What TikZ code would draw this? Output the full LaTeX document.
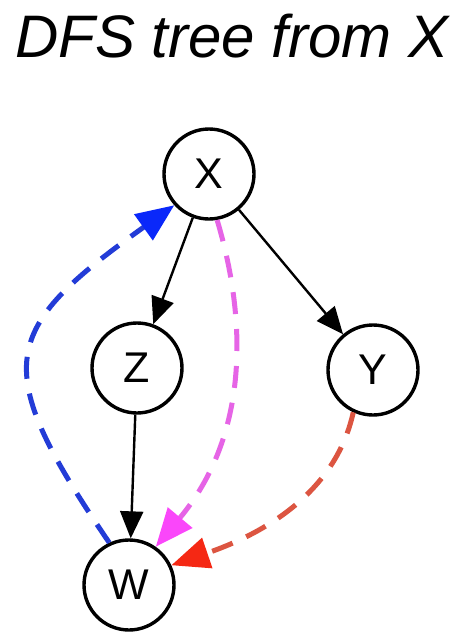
\documentclass[tikz,border=0pt]{standalone}
\usepackage{fontspec}
\setmainfont{Liberation Sans}
\usetikzlibrary{arrows.meta}
\definecolor{blueE}{RGB}{35,60,215}
\definecolor{blueT}{RGB}{10,40,250}
\definecolor{magE}{RGB}{230,100,230}
\definecolor{magT}{RGB}{250,70,250}
\definecolor{redE}{RGB}{220,85,65}
\definecolor{redT}{RGB}{245,40,20}
\begin{document}
\begin{tikzpicture}[x=1pt,y=-1pt,
  vert/.style={circle,draw=black,line width=3.4pt,minimum size=90pt,inner sep=0pt,fill=white,font=\fontsize{43}{46}\selectfont},
  treeedge/.style={line width=2.4pt,-{Triangle[length=27pt,width=23pt]}},
  backedge/.style={line width=5pt,dash pattern=on 22pt off 15pt,line cap=butt}]
\useasboundingbox[fill=white] (0,0) rectangle (452,640);
\node[anchor=base,font=\itshape\fontsize{60}{66}\selectfont] (title) at (232,57) {DFS tree from X};
\node[vert] (X) at (209,174) {X};
\node[vert] (Z) at (137,368) {Z};
\node[vert] (Y) at (373,370) {Y};
\node[vert] (W) at (129,585) {W};
\draw[treeedge] (X) -- (Z);
\draw[treeedge] (X) -- (Y);
\draw[treeedge] (Z) -- (W);
\draw[backedge,draw=blueE,-{Triangle[length=38pt,width=31pt,color=blueT]}] (W.115) .. controls (-12,365) and (0,330) .. (X.222);
\draw[backedge,draw=magE,-{Triangle[length=38pt,width=31pt,color=magT]}] (X.280) .. controls (250,330) and (245,440) .. (W.55);
\draw[backedge,draw=redE,-{Triangle[length=38pt,width=31pt,color=redT]}] (Y.245) .. controls (335,495) and (260,535) .. (W.25);
\end{tikzpicture}
\end{document}
